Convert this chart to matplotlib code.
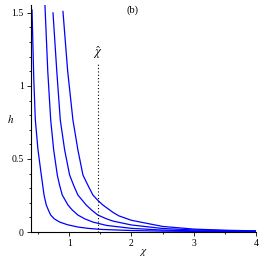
import matplotlib
matplotlib.use('Agg')
import matplotlib.pyplot as plt
from matplotlib.ticker import MultipleLocator

plt.rcParams['font.family'] = 'Liberation Serif'
plt.rcParams['mathtext.fontset'] = 'stix'

# values, one curve per list pair
chi1 = [0.402, 0.43, 0.455, 0.498, 0.551, 0.562, 0.595, 0.631, 0.665, 0.702, 0.76, 0.846, 0.97, 1.14, 1.3, 1.5, 2.0, 2.5, 3.0, 4.0]
h1 = [1.52, 1.05, 0.767, 0.562, 0.39, 0.356, 0.253, 0.185, 0.15, 0.116, 0.09, 0.068, 0.05, 0.034, 0.025, 0.018, 0.010, 0.006, 0.004, 0.002]

chi2 = [0.61, 0.655, 0.702, 0.75, 0.808, 0.845, 0.888, 0.979, 1.05, 1.139, 1.25, 1.38, 1.6, 2.0, 2.5, 3.0, 4.0]
h2 = [1.55, 1.1, 0.767, 0.562, 0.39, 0.32, 0.253, 0.185, 0.15, 0.116, 0.09, 0.068, 0.045, 0.025, 0.013, 0.008, 0.004]

chi3 = [0.739, 0.80, 0.856, 0.926, 1.006, 1.07, 1.139, 1.272, 1.36, 1.46, 1.6, 1.7, 2.0, 2.5, 3.0, 4.0]
h3 = [1.50, 1.1, 0.767, 0.562, 0.39, 0.32, 0.253, 0.185, 0.15, 0.116, 0.09, 0.075, 0.048, 0.024, 0.014, 0.006]

chi4 = [0.899, 0.975, 1.059, 1.139, 1.22, 1.30, 1.38, 1.465, 1.54, 1.7, 1.8, 2.0, 2.5, 3.0, 3.5, 4.0]
h4 = [1.51, 1.1, 0.767, 0.562, 0.39, 0.32, 0.253, 0.214, 0.185, 0.135, 0.11, 0.08, 0.038, 0.02, 0.012, 0.008]

chi_hat = 1.465
chi_hat_top = 1.16

fig = plt.figure(figsize=(2.62, 2.62), dpi=100)
ax = fig.add_axes([0.117, 0.1145, 0.86, 0.867])

for x, y in [(chi1, h1), (chi2, h2), (chi3, h3), (chi4, h4)]:
    ax.plot(x, y, color='#0000ff', lw=0.9)

ax.plot([chi_hat, chi_hat], [0, chi_hat_top], color='black', lw=0.8, ls=(0, (1, 2)))
ax.text(chi_hat, 1.23, r'$\hat{\chi}$', ha='center', va='center', fontsize=9)
ax.text(2.02, 1.52, '(b)', ha='center', va='center', fontsize=7.5)

ax.set_xlim(0.38, 4.0)
ax.set_ylim(0, 1.555)
ax.spines['top'].set_visible(False)
ax.spines['right'].set_visible(False)
ax.spines['left'].set_linewidth(0.8)
ax.spines['bottom'].set_linewidth(0.8)

ax.xaxis.set_major_locator(MultipleLocator(1))
ax.xaxis.set_minor_locator(MultipleLocator(0.5))
ax.yaxis.set_minor_locator(MultipleLocator(0.1))
ax.set_yticks([0, 0.5, 1, 1.5])
ax.set_yticklabels(['0', '0.5', '1', '1.5'])
ax.tick_params(which='major', length=3, width=0.6, labelsize=7, pad=2)
ax.tick_params(which='minor', length=1.5, width=0.6)

ax.set_xlabel(r'$\chi$', fontsize=8)
ax.xaxis.set_label_coords(0.5, -0.065)
ax.set_ylabel(r'$h$', fontsize=8, rotation=0)
ax.yaxis.set_label_coords(-0.09, 0.47)

fig.savefig('out.png', dpi=100)
